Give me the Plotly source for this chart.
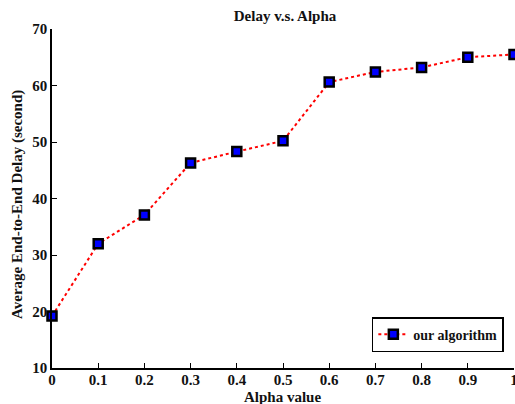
import plotly.graph_objects as go

alpha = [0, 0.1, 0.2, 0.3, 0.4, 0.5, 0.6, 0.7, 0.8, 0.9, 1.0]
delay = [19.2, 32.0, 37.1, 46.3, 48.3, 50.2, 60.6, 62.4, 63.2, 65.0, 65.5]
xticks = [0, 0.1, 0.2, 0.3, 0.4, 0.5, 0.6, 0.7, 0.8, 0.9, 1]
xticklabels = ["0", "0.1", "0.2", "0.3", "0.4", "0.5", "0.6", "0.7", "0.8", "0.9", "1"]
yticks = [10, 20, 30, 40, 50, 60, 70]

font_family = "Liberation Serif"
W, H = 515, 404
L, R, T, B = 52, 1, 29, 36
pw, ph = W - L - R, H - T - B

def px_x(x):
    return (x - L) / pw

def px_y(y):
    return (H - B - y) / ph

fig = go.Figure()
fig.add_trace(go.Scatter(
    x=alpha, y=delay, mode="lines+markers", name="<b>our algorithm</b>",
    line=dict(color="red", width=2, dash="dot"),
    marker=dict(symbol="square", size=9, color="blue", line=dict(color="black", width=2.5)),
    cliponaxis=False,
))

fig.update_layout(
    width=W, height=H,
    margin=dict(l=L, r=R, t=T, b=B),
    paper_bgcolor="white", plot_bgcolor="white",
    font=dict(family=font_family, color="#111111"),
    title=dict(text="<b>Delay v.s. Alpha</b>", x=285/W, xanchor="center", y=1 - 16/H, yanchor="middle",
               font=dict(size=15, family=font_family)),
    xaxis=dict(range=[0, 1], tickvals=xticks, ticktext=[f"<b>{t}</b>" for t in xticklabels],
               showline=True, linecolor="black", linewidth=1.5, ticks="inside", ticklen=5,
               tickcolor="black", showgrid=False, zeroline=False, automargin=False,
               ticklabeloverflow="allow", ticklabelstandoff=-3,
               tickfont=dict(size=15, family=font_family)),
    yaxis=dict(range=[10, 70], tickvals=yticks, ticktext=[f"<b>{t}</b>" for t in yticks],
               showline=True, linecolor="black", linewidth=1.5, ticks="inside", ticklen=5,
               tickcolor="black", showgrid=False, zeroline=False, automargin=False,
               ticklabeloverflow="allow",
               tickfont=dict(size=15, family=font_family)),
    showlegend=True,
    legend=dict(x=0.978, xanchor="right", y=0.047, yanchor="bottom",
                bordercolor="black", borderwidth=1.5, bgcolor="white",
                font=dict(size=14, family=font_family)),
    annotations=[
        dict(text="<b>Alpha value</b>", xref="paper", yref="paper", x=px_x(282), y=px_y(397),
             xanchor="center", yanchor="middle", showarrow=False, font=dict(size=15, family=font_family)),
        dict(text="<b>Average End-to-End Delay (second)</b>", xref="paper", yref="paper",
             x=px_x(17), y=px_y(205), textangle=-90,
             xanchor="center", yanchor="middle", showarrow=False, font=dict(size=15, family=font_family)),
    ],
)

fig.write_html("out.html", config={"displayModeBar": False},
               post_script="document.body.style.margin='0';document.body.style.overflow='hidden';")
